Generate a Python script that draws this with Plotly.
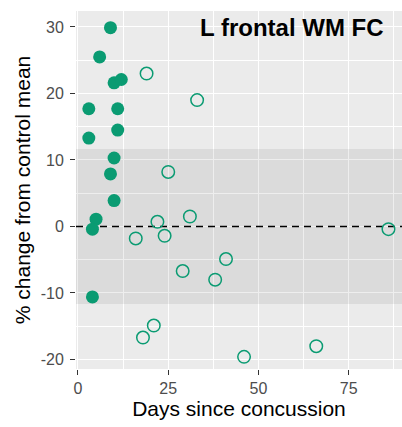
import plotly.graph_objects as go

# ---- data ----
acute_days = [9, 6, 10, 12, 3, 11, 11, 3, 10, 9, 10, 5, 4, 4]
acute_pct = [29.9, 25.5, 21.6, 22.1, 17.7, 17.7, 14.5, 13.3, 10.3, 7.9, 3.9, 1.1, -0.4, -10.6]
later_days = [19, 33, 25, 31, 22, 16, 24, 29, 21, 18, 41, 38, 46, 66, 86]
later_pct = [23.0, 19.0, 8.2, 1.5, 0.7, -1.8, -1.4, -6.7, -14.9, -16.7, -4.9, -8.0, -19.6, -18.0, -0.4]
band_low, band_high = -11.65, 11.65
ref_line = 0
x_ticks = [0, 25, 50, 75]
y_ticks = [-20, -10, 0, 10, 20, 30]
title_text = "L frontal WM FC"

x_range = [-0.55, 89.75]
y_range = [-21.43, 32.4]

GREEN = "#0A9B72"
FONT = "Liberation Sans, Arial, Helvetica, sans-serif"

fig = go.Figure()

# control band (drawn as a trace so that it sits above the gridlines)
fig.add_trace(go.Scatter(
    x=[x_range[0], x_range[1], x_range[1], x_range[0]],
    y=[band_low, band_low, band_high, band_high],
    mode="lines", fill="toself", fillcolor="rgba(0,0,0,0.065)",
    line=dict(width=0), showlegend=False, hoverinfo="skip"))
# reference line
fig.add_trace(go.Scatter(
    x=x_range, y=[ref_line, ref_line], mode="lines",
    line=dict(color="black", width=1.5, dash="7px,5px"),
    showlegend=False, hoverinfo="skip"))

fig.add_trace(go.Scatter(
    x=acute_days, y=acute_pct, mode="markers",
    marker=dict(symbol="circle", size=13, color=GREEN, line=dict(width=0)),
    showlegend=False, hoverinfo="skip"))
fig.add_trace(go.Scatter(
    x=later_days, y=later_pct, mode="markers",
    marker=dict(symbol="circle-open", size=12.5, color=GREEN, line=dict(width=1.5, color=GREEN)),
    showlegend=False, hoverinfo="skip"))

fig.add_annotation(text="<b>" + title_text + "</b>", xref="paper", yref="paper",
                   x=0.951, y=0.953, xanchor="right", yanchor="middle", showarrow=False,
                   font=dict(family=FONT, size=24, color="black"))

axis_common = dict(
    showgrid=True, gridcolor="white", gridwidth=1.1, zeroline=False,
    ticks="outside", ticklen=5, tickwidth=1, tickcolor="#333333",
    tickfont=dict(family=FONT, size=16, color="#4D4D4D"),
    showline=False,
)

fig.update_xaxes(
    **axis_common, range=x_range, tickvals=x_ticks,
    ticktext=[str(v) for v in x_ticks],
    minor=dict(tickvals=[12.5, 37.5, 62.5, 87.5], showgrid=True, gridcolor="white", gridwidth=0.5, ticks=""),
    title=dict(text="Days since concussion", font=dict(family=FONT, size=21, color="black"), standoff=3),
)
fig.update_yaxes(
    **axis_common, range=y_range, tickvals=y_ticks,
    ticktext=[str(v) for v in y_ticks],
    minor=dict(tickvals=[-15, -5, 5, 15, 25], showgrid=True, gridcolor="white", gridwidth=0.5, ticks=""),
    ticklabelstandoff=3,
    title=dict(text="% change from control mean", font=dict(family=FONT, size=21, color="black"), standoff=4),
)

fig.update_layout(
    width=402, height=427,
    margin=dict(l=76, r=0, t=11, b=58, autoexpand=False),
    plot_bgcolor="#EBEBEB", paper_bgcolor="white",
    font=dict(family=FONT),
)

fig.write_html("out.html", config={"displayModeBar": False})
